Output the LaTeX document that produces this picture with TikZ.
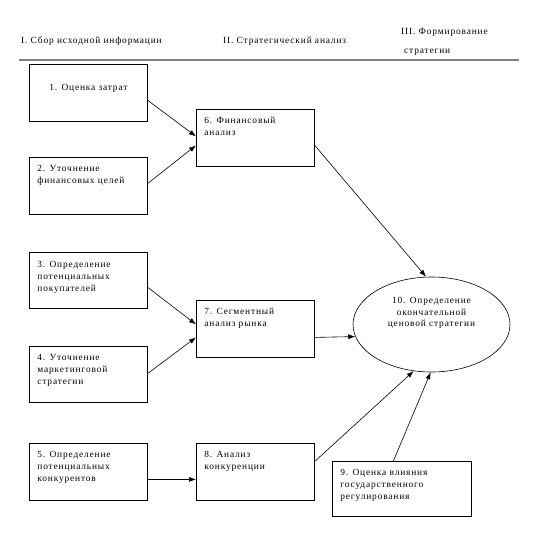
\documentclass[tikz,border=0pt]{standalone}
\usepackage{fontspec}
\setmainfont{Liberation Serif}[LetterSpace=9]
\usetikzlibrary{arrows.meta,calc,shapes.geometric}
\newcommand\bxt[4]{\parbox[c][#2pt][t]{#1pt}{\fontsize{9.4pt}{12pt}\selectfont\vspace*{#3pt}\raggedright\leftskip=8pt\strut #4}}
\newcommand\bxc[4]{\parbox[c][#2pt][t]{#1pt}{\fontsize{9.4pt}{12pt}\selectfont\vspace*{#3pt}\centering\strut #4}}
\begin{document}
\begin{tikzpicture}[x=1pt,y=-1pt,
  box/.style={draw, line width=0.8pt, inner sep=0pt, anchor=north west},
  hdr/.style={font=\fontsize{9.4pt}{12pt}\selectfont, inner sep=0pt, anchor=west},
  arr/.style={-{Latex[length=7pt,width=5pt]}, line width=0.6pt}]
\useasboundingbox (0,0) rectangle (538,538);
% header
\node[hdr] (h1) at (21,41) {I. Сбор исходной информации};
\node[hdr] (h2) at (223,41) {II. Стратегический анализ};
\node[hdr, align=left, anchor=north west] (h3) at (401,28) {III. Формирование\\[7pt]\hspace{3pt}стратегии};
\coordinate (la) at (19,60);
\coordinate (lb) at (519,60);
\draw[line width=1.5pt, gray] (la) -- (lb);
% boxes
\node[box] (b1) at (29,64) {\bxc{118}{57}{17.5}{1. Оценка затрат}};
\node[box] (b2) at (29,157) {\bxt{118}{57}{5.5}{2. Уточнение\\финансовых целей}};
\node[box] (b3) at (29,252) {\bxt{118}{56}{6.5}{3. Определение\\потенциальных\\покупателей}};
\node[box] (b4) at (29,346) {\bxt{118}{56}{5.5}{4. Уточнение\\маркетинговой\\стратегии}};
\node[box] (b5) at (29,443) {\bxt{118}{57}{5.5}{5. Определение\\потенциальных\\конкурентов}};
\node[box] (b6) at (196,109) {\bxt{118}{57}{5.5}{6. Финансовый\\анализ}};
\node[box] (b7) at (196,300) {\bxt{118}{57}{6}{7. Сегментный\\анализ рынка}};
\node[box] (b8) at (196,443) {\bxt{118}{57}{5.5}{8. Анализ\\конкуренции}};
\node[box] (b9) at (332,461) {\bxt{139}{55}{5.5}{9. Оценка влияния\\государственного\\регулирования}};
\node[draw, ellipse, line width=0.6pt, minimum width=157pt, minimum height=95pt, inner sep=0pt] (e) at (431.5,324.5)
  {\parbox{100pt}{\fontsize{9.4pt}{11.5pt}\selectfont\centering 10. Определение\\окончательной\\ценовой стратегии\par\vspace{23pt}}};
% connectors
\draw[arr] ($(b1.east)+(0,7.5)$) -- ($(b6.west)+(0,-1.5)$);
\draw[arr] ($(b2.east)+(0,-2.5)$) -- ($(b6.west)+(0,7.5)$);
\draw[arr] ($(b3.east)+(0,7)$) -- ($(b7.west)+(0,-4.5)$);
\draw[arr] ($(b4.east)+(0,-1)$) -- ($(b7.west)+(0,8.5)$);
\draw[arr] ($(b5.east)+(0,7.5)$) -- ($(b8.west)+(0,7.5)$);
\draw[arr] ($(b6.east)+(0,7.5)$) -- ($(e.north)+(-5.5,0)$);
\draw[arr] ($(b7.east)+(0,8.5)$) -- (e.189.4);
\draw[arr] ($(b8.east)+(0,-10.5)$) -- (e.249);
\draw[arr] ($(b9.north)+(-8.5,0)$) -- (e.269);
\end{tikzpicture}
\end{document}
